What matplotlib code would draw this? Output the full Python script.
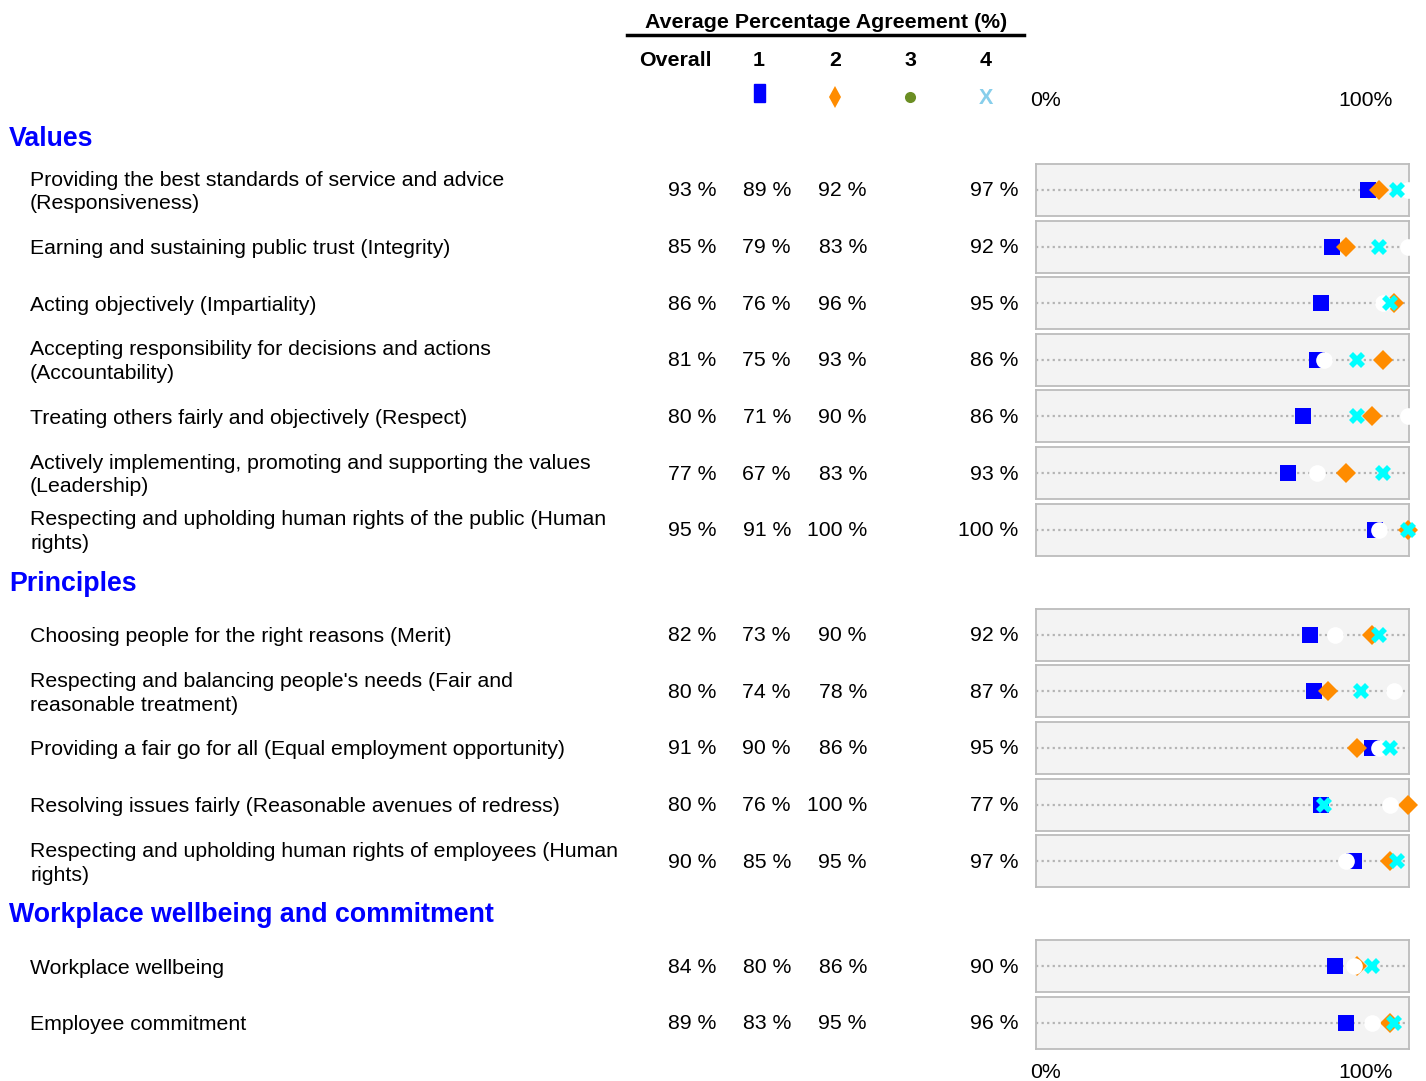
import matplotlib.pyplot as plt
from matplotlib.patches import Rectangle

plt.rcParams['font.family'] = ['Liberation Sans', 'DejaVu Sans']

W, H = 1426, 1081

# data
sections = ["Values", "Principles", "Workplace wellbeing and commitment"]
section_sizes = [7, 5, 2]
labels = [
    "Providing the best standards of service and advice\n(Responsiveness)",
    "Earning and sustaining public trust (Integrity)",
    "Acting objectively (Impartiality)",
    "Accepting responsibility for decisions and actions\n(Accountability)",
    "Treating others fairly and objectively (Respect)",
    "Actively implementing, promoting and supporting the values\n(Leadership)",
    "Respecting and upholding human rights of the public (Human\nrights)",
    "Choosing people for the right reasons (Merit)",
    "Respecting and balancing people's needs (Fair and\nreasonable treatment)",
    "Providing a fair go for all (Equal employment opportunity)",
    "Resolving issues fairly (Reasonable avenues of redress)",
    "Respecting and upholding human rights of employees (Human\nrights)",
    "Workplace wellbeing",
    "Employee commitment",
]
overall = [93, 85, 86, 81, 80, 77, 95, 82, 80, 91, 80, 90, 84, 89]
group1 = [89, 79, 76, 75, 71, 67, 91, 73, 74, 90, 76, 85, 80, 83]
group2 = [92, 83, 96, 93, 90, 83, 100, 90, 78, 86, 100, 95, 86, 95]
group3 = [100, 100, 93, 77, 100, 75, 92, 80, 96, 92, 95, 83, 85, 90]  # plotted only (white)
group4 = [97, 92, 95, 86, 86, 93, 100, 92, 87, 95, 77, 97, 90, 96]
col_headers = ["Overall", "1", "2", "3", "4"]

fs = 15.3

fig = plt.figure(figsize=(W / 100, H / 100), dpi=100)
ax0 = fig.add_axes([0, 0, 1, 1])
ax0.set_xlim(0, W)
ax0.set_ylim(H, 0)
ax0.axis('off')

# header
ax0.text(826, 22, "Average Percentage Agreement (%)", ha='center', va='center',
         fontsize=15.4, fontweight='bold')
ax0.plot([627, 1024], [35, 35], color='black', lw=2.5)
col_x = [675, 759, 835, 910, 986]
for cx, h in zip(col_x, col_headers):
    ax0.text(cx, 60, h, ha='center', va='center', fontsize=15.4, fontweight='bold')

# legend symbols
ax0.add_patch(Rectangle((754, 84), 11, 18, color='#0000FF'))
ax0.plot(835, 97, marker='d', color='#FF8C00', ms=11, mew=0)
ax0.plot(910, 97, marker='o', color='#6B8E23', ms=8, mew=0)
ax0.text(986, 99, "X", ha='center', va='center', fontsize=15.5, fontweight='bold',
         color='#87CEEB')

for yy in (100, 1072):
    ax0.text(1030, yy, "0%", ha='left', va='center', fontsize=fs)
    ax0.text(1393, yy, "100%", ha='right', va='center', fontsize=fs)

# row layout
row_step = 56.6
sec_gap = 48.5
ys = []
sec_y = []
y = 190
for s, n in enumerate(section_sizes):
    if s > 0:
        y += sec_gap
    sec_y.append(y - 51)
    for i in range(n):
        ys.append(y)
        y += row_step

for name, sy in zip(sections, sec_y):
    ax0.text(9, sy, name, ha='left', va='center', fontsize=19.3, fontweight='bold',
             color='#0000FF')

val_right = [716, 791, 867, 1018]
for i, yc in enumerate(ys):
    ax0.text(30, yc + 2, labels[i], ha='left', va='center', fontsize=fs, linespacing=1.32)
    for xr, v in zip(val_right, [overall[i], group1[i], group2[i], group4[i]]):
        ax0.text(xr, yc + 1, f"{v} %", ha='right', va='center', fontsize=fs)

    ax = fig.add_axes([1036 / W, 1 - (yc + 26) / H, 373 / W, 52 / H])
    ax.set_facecolor('#f3f3f3')
    ax.set_xlim(-2.2, 100.2)
    ax.set_ylim(-1, 1)
    ax.set_xticks([])
    ax.set_yticks([])
    for sp in ax.spines.values():
        sp.set_linestyle((0, (1, 1)))
        sp.set_color('#bcbcbc')
        sp.set_linewidth(1.3)
    ax.axhline(0, color='#b4b4b4', ls=(0, (1, 1.5)), lw=1.6, zorder=1)
    ax.plot(group1[i], 0, 's', color='#0000FF', ms=11.5, mew=0, clip_on=False, zorder=3)
    ax.plot(group2[i], 0, 'D', color='#FF8C00', ms=10, mew=0, clip_on=False, zorder=4)
    ax.plot(group3[i], 0, 'o', color='white', ms=12, mew=0, clip_on=False, zorder=5)
    ax.plot(group4[i], 0, 'X', color='#00FFFF', ms=11, mew=0, clip_on=False, zorder=6)

fig.savefig('out.png', dpi=100)
